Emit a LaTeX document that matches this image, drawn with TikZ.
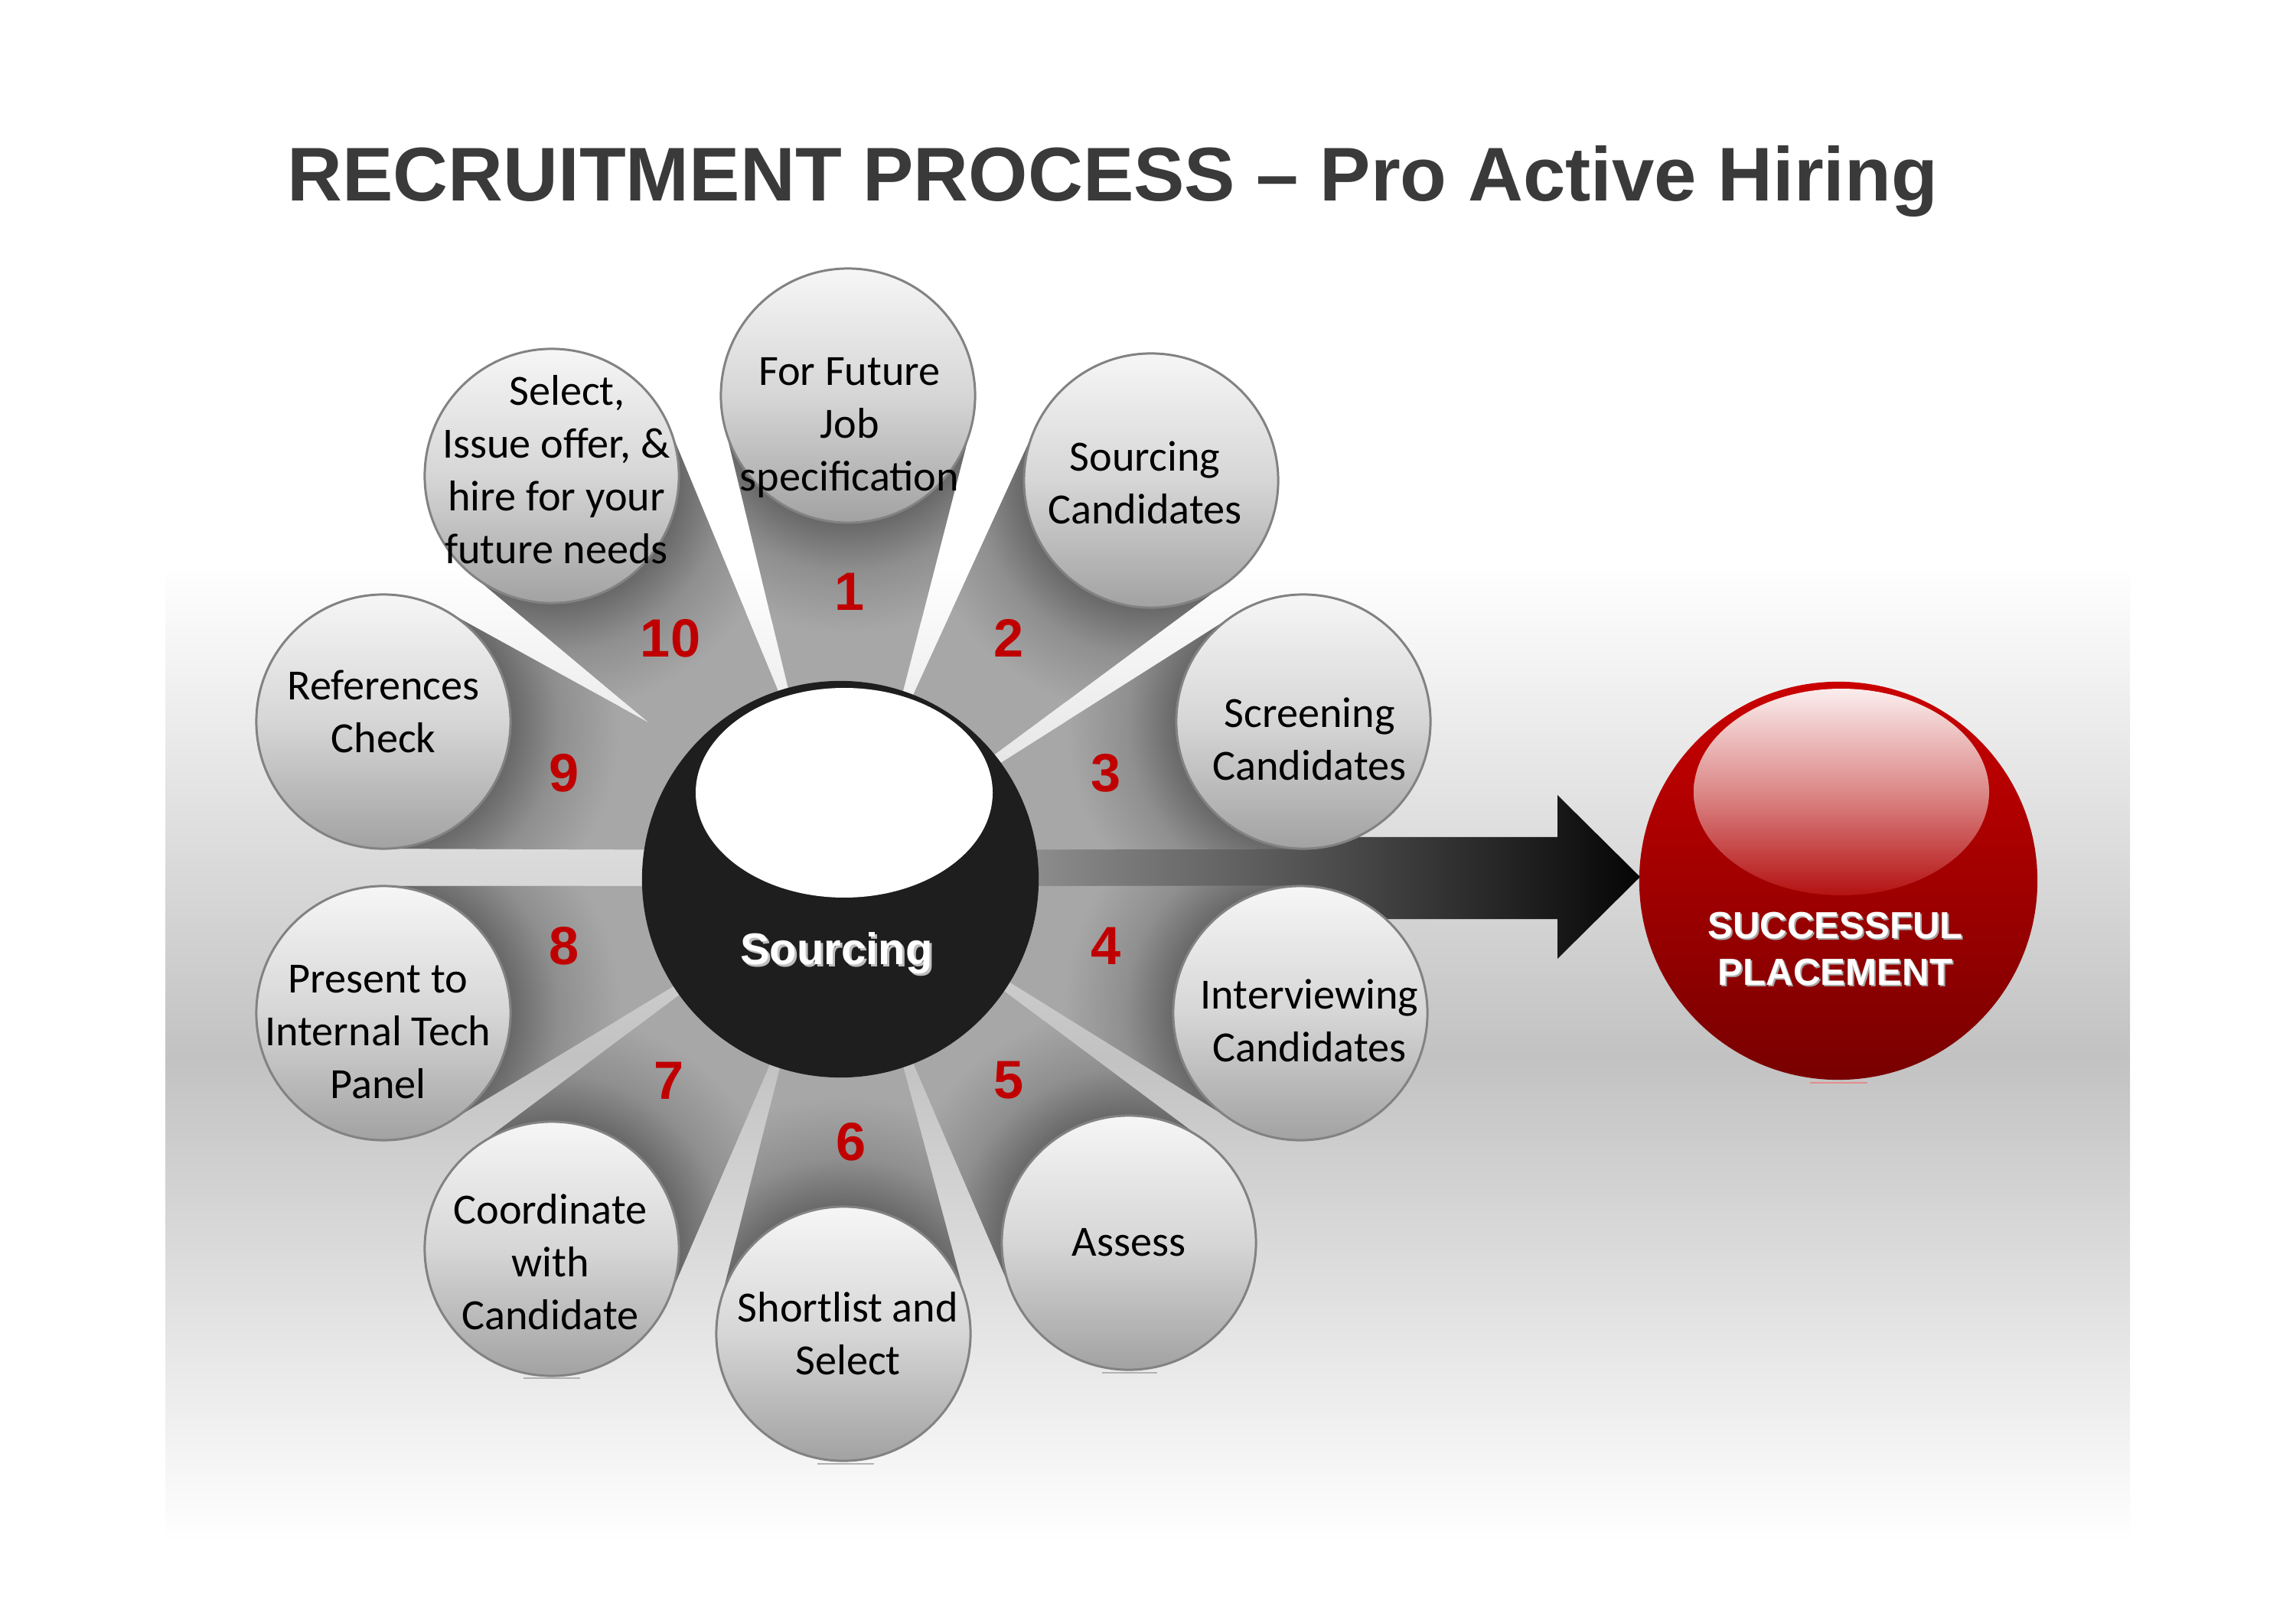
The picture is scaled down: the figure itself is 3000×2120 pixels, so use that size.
\documentclass[tikz,border=0pt]{standalone}
\usepackage{fontspec}
\setmainfont{Carlito}
\newfontfamily\arialfont{Liberation Sans}
\usetikzlibrary{calc}

\definecolor{titlegray}{HTML}{3A3A3A}
\definecolor{numred}{HTML}{C00000}
\definecolor{wdk}{HTML}{686868}
\definecolor{wmd}{HTML}{8F8F8F}
\definecolor{wlt}{HTML}{A7A7A7}
\definecolor{bggray}{HTML}{C2C2C2}
\definecolor{sattop}{HTML}{F6F6F6}
\definecolor{satmid}{HTML}{D6D6D6}
\definecolor{satbot}{HTML}{A2A2A2}
\definecolor{satline}{HTML}{828282}
\definecolor{hubblack}{HTML}{1E1E1E}
\definecolor{balltop}{HTML}{CA0000}
\definecolor{ballbot}{HTML}{780000}
\definecolor{hltop}{HTML}{FBEDED}
\definecolor{hlmid}{HTML}{DC8888}
\definecolor{hlbot}{HTML}{B41212}
\definecolor{arrowlt}{HTML}{959595}
\definecolor{arrowmd}{HTML}{505050}
\definecolor{arrowdk}{HTML}{050505}

% the path's bounding box maps to the inner 25bp radius of the shading
\pgfdeclareradialshading{satshadow}{\pgfpoint{0bp}{0bp}}{color(0bp)=(wdk); color(13.4bp)=(wdk); color(18.5bp)=(wmd); color(25bp)=(wlt); color(50bp)=(wlt)}

\tikzset{
  satnode/.style={circle, minimum size=3.32cm, inner sep=0pt, draw=satline, line width=0.85pt,
    top color=sattop, bottom color=satbot, middle color=satmid},
  sattext/.style={font=\fontsize{16}{19.6}\selectfont, align=center, inner sep=0pt, text=black},
  numtext/.style={font=\arialfont\bfseries\fontsize{20}{24}\selectfont, text=numred, inner sep=0pt},
  refl/.style={line width=0.6pt, draw=black!30},
}

\begin{document}
\begin{tikzpicture}[x=0.01cm,y=0.01cm]
\useasboundingbox (0,0) rectangle (3000,2120);
\fill[white] (0,0) rectangle (3000,2120);

% background band
\shade[top color=white, bottom color=bggray] (216,739) rectangle (2783,1380);
\shade[top color=bggray, bottom color=white] (216,105) rectangle (2783,740);

% key coordinates
\coordinate (hubc) at (1098,971);
\coordinate (ballc) at (2402,969);
\coordinate (S1) at (1108,1603);
\coordinate (S2) at (1504,1492);
\coordinate (S3) at (1703,1177);
\coordinate (S4) at (1699,796);
\coordinate (S5) at (1475,496);
\coordinate (S6) at (1102,377);
\coordinate (S7) at (721,488);
\coordinate (S8) at (501,796);
\coordinate (S9) at (501,1177);
\coordinate (S10) at (721,1498);

% block arrow from hub to ball
\shade[left color=arrowlt, right color=arrowdk, middle color=arrowmd]
  ($(hubc)+(200,55)$) -- ($(ballc)+(-367,57)$) -- ($(ballc)+(-367,112)$)
  -- ($(ballc)+(-259,5)$)
  -- ($(ballc)+(-367,-102)$) -- ($(ballc)+(-367,-50)$) -- ($(hubc)+(200,-52)$) -- cycle;

% wedges (spokes)
\foreach \i/\a/\b in {1/105.3/71.5, 2/68.5/39, 3/36/8.7, 4/-2/-31.3, 5/-34.3/-68.4,
                      6/-71.4/-107.8, 7/-110.8/-144.3, 8/-147.3/-178, 9/171.3/137.9, 10/140.9/108.2}{
  \coordinate (A\i) at ($(hubc)+(\a:255)$);
  \coordinate (B\i) at ($(hubc)+(\b:255)$);
  \path let \p1=($(A\i)-(S\i)$), \p2=($(B\i)-(S\i)$),
    \n1={atan2(\y1,\x1)}, \n2={acos(47.23/veclen(\x1,\y1))},
    \n3={atan2(\y2,\x2)}, \n4={acos(47.23/veclen(\x2,\y2))}
    in coordinate (TA\i) at ($(S\i)+({\n1-\n2}:166)$)
       coordinate (TB\i) at ($(S\i)+({\n3+\n4}:166)$);
  \fill[wlt] (hubc) -- (A\i) -- (TA\i) -- (TB\i) -- (B\i) -- cycle;
  \begin{scope}
    \clip (hubc) -- (A\i) -- (TA\i) -- (TB\i) -- (B\i) -- cycle;
    \shade[shading=satshadow] (S\i) circle[radius=310];
  \end{scope}
}

% faint reflections under lower spheres
\draw[refl] (1068,207) -- (1142,207);
\draw[refl] (1440,326) -- (1512,326);
\draw[refl] (684,319) -- (758,319);
\draw[line width=0.6pt, draw=numred!45] (2365,705) -- (2440,705);

% satellite spheres
\foreach \i in {1,...,10} \node[satnode] (s\i) at (S\i) {};

% satellite texts
\node[sattext] (t1) at (1110,1561) {For Future\\Job\\specification};
\node[sattext] (t2) at (1496,1489) {Sourcing\\Candidates};
\node[sattext] (t3) at (1711,1154) {Screening\\Candidates};
\node[sattext] (t4) at (1711,786) {Interviewing\\Candidates};
\node[sattext] (t5) at (1475,496) {Assess};
\node[sattext] (t6) at (1108,377) {Shortlist and\\Select};
\node[sattext] (t7) at (719,471) {Coordinate\\with\\Candidate};
\node[sattext] (t8) at (494,771) {Present to\\Internal Tech\\Panel};
\node[sattext] (t9) at (501,1190) {References\\Check};
\node[sattext] (t10) at (727,1506) {\hspace*{20\pgflinewidth}Select,\\Issue offer, \&\\hire for your\\future needs};

% step numbers
\node[numtext] (n1) at (1110,1347) {1};
\node[numtext] (n2) at (1318,1286) {2};
\node[numtext] (n3) at (1445,1110) {3};
\node[numtext] (n4) at (1445,884) {4};
\node[numtext] (n5) at (1318,708) {5};
\node[numtext] (n6) at (1112,628) {6};
\node[numtext] (n7) at (874,708) {7};
\node[numtext] (n8) at (737,884) {8};
\node[numtext] (n9) at (737,1110) {9};
\node[numtext] (n10) at (876,1286) {10};

% hub
\node[circle, fill=hubblack, minimum size=5.18cm, inner sep=0pt] (hub) at (hubc) {};
\fill[white] (1103,1084) ellipse [x radius=194, y radius=137];
\node[anchor=base, inner sep=0pt, text=black!25, font=\arialfont\bfseries\fontsize{16.5}{20}\selectfont] (hubshadow) at (1096,857) {Sourcing};
\node[anchor=base, inner sep=0pt, text=white, font=\arialfont\bfseries\fontsize{16.5}{20}\selectfont] (hublabel) at (1093,860) {Sourcing};

% result ball
\node[circle, minimum size=5.2cm, inner sep=0pt, top color=balltop, bottom color=ballbot] (ball) at (ballc) {};
\shade[top color=hltop, bottom color=hlbot, middle color=hlmid] (2406,1085) ellipse [x radius=193, y radius=135];
\node[align=center, inner sep=0pt, text=black!35, font=\arialfont\bfseries\fontsize{14}{17.4}\selectfont] (ballshadow) at (2400,878) {SUCCESSFUL\\PLACEMENT};
\node[align=center, inner sep=0pt, text=white, font=\arialfont\bfseries\fontsize{14}{17.4}\selectfont] (balllabel) at (2398,880) {SUCCESSFUL\\PLACEMENT};

% title
\node[anchor=base west, inner sep=0pt, text=titlegray, font=\arialfont\bfseries\fontsize{28.3}{34}\selectfont] (title) at (375,1857) {RECRUITMENT PROCESS – Pro Active Hiring};
\end{tikzpicture}
\end{document}
